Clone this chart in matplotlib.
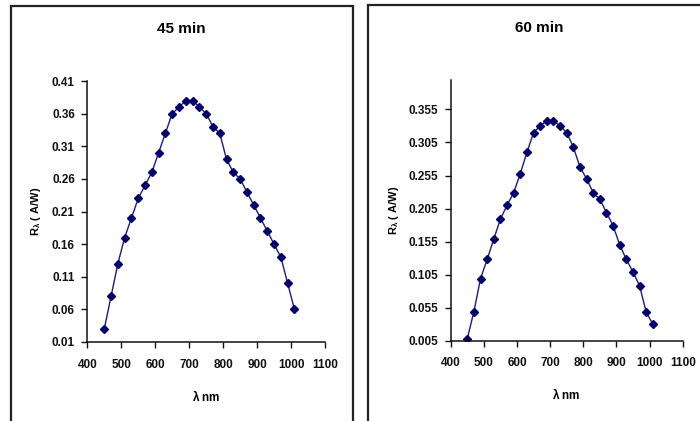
import numpy as np
import matplotlib
matplotlib.use('Agg')
import matplotlib.pyplot as plt
from matplotlib.patches import Rectangle

plt.rcParams['font.family'] = ['Liberation Sans', 'DejaVu Sans']
plt.rcParams['mathtext.fontset'] = 'custom'
plt.rcParams['mathtext.rm'] = 'Liberation Sans:bold'
plt.rcParams['mathtext.it'] = 'Liberation Sans:bold'
plt.rcParams['mathtext.default'] = 'rm'

# wavelength (nm), same for both panels
wavelength = [450, 470, 490, 510, 530, 550, 570, 590, 610, 630, 650, 670, 690, 710, 730,
              750, 770, 790, 810, 830, 850, 870, 890, 910, 930, 950, 970, 990, 1010]

# responsivity after 45 min
resp_45 = [0.03, 0.08, 0.13, 0.17, 0.20, 0.23, 0.25, 0.27, 0.30, 0.33, 0.36, 0.37, 0.38, 0.38, 0.37,
           0.36, 0.34, 0.33, 0.29, 0.27, 0.26, 0.24, 0.22, 0.20, 0.18, 0.16, 0.14, 0.10, 0.06]

# responsivity after 60 min
resp_60 = [0.008, 0.049, 0.099, 0.128, 0.159, 0.189, 0.21, 0.229, 0.258, 0.29, 0.32, 0.33, 0.338, 0.338, 0.33,
           0.32, 0.298, 0.268, 0.25, 0.229, 0.219, 0.199, 0.179, 0.15, 0.128, 0.109, 0.088, 0.048, 0.03]

x_ticks = [400, 500, 600, 700, 800, 900, 1000, 1100]
y_ticks_45 = [0.01, 0.06, 0.11, 0.16, 0.21, 0.26, 0.31, 0.36, 0.41]
y_ticks_60 = [0.005, 0.055, 0.105, 0.155, 0.205, 0.255, 0.305, 0.355]

W, H = 700, 421
fig = plt.figure(figsize=(7, 4.21), dpi=100)

# panel frames (pixel coords -> figure fraction)
def frame(x0, y0, x1, y1):
    r = Rectangle((x0 / W, 1 - y1 / H), (x1 - x0) / W, (y1 - y0) / H,
                  transform=fig.transFigure, fill=False, edgecolor='#222222', lw=1.6, clip_on=False)
    fig.patches.append(r)

frame(11, 6, 353, 440)
frame(368, 5, 720, 440)

def panel(rect, y, yticks, fmt, ylim, title, title_xy, ylab_x):
    ax = fig.add_axes(rect)
    ax.plot(wavelength, y, color='#1a1a8c', lw=1, marker='D', ms=4,
            markerfacecolor='#000070', markeredgecolor='#000070')
    ax.set_xlim(400, 1100)
    ax.set_ylim(*ylim)
    ax.set_xticks(x_ticks)
    ax.set_yticks(yticks)
    ax.set_yticklabels([fmt.format(v) for v in yticks])
    for s in ['top', 'right']:
        ax.spines[s].set_visible(False)
    for s in ['left', 'bottom']:
        ax.spines[s].set_color('#111111')
        ax.spines[s].set_linewidth(1.1)
    ax.tick_params(direction='out', length=4, width=1.0, color='#111111',
                   labelsize=8.5, labelcolor='#111111')
    ax.tick_params(axis='x', pad=8)
    ax.tick_params(axis='y', pad=5)
    for lab in ax.get_xticklabels() + ax.get_yticklabels():
        lab.set_fontweight('bold')
    ax.set_xlabel(r'$\lambda$ nm', fontsize=8.5, fontweight='bold', labelpad=13)
    ax.set_ylabel(r'R$_\lambda$ ( A/W)', fontsize=8, fontweight='bold')
    ax.yaxis.set_label_coords(ylab_x, 0.5)
    fig.text(title_xy[0] / W, 1 - title_xy[1] / H, title, ha='center', va='center',
             fontsize=11, fontweight='bold')
    return ax

panel([87.3 / W, 79 / H, 237.7 / W, 261 / H], resp_45, y_ticks_45, '{:.2f}', (0.01, 0.41),
      '45 min', (181, 29), -0.185)
panel([450.7 / W, 80.3 / H, 232 / W, 261 / H], resp_60, y_ticks_60, '{:.3f}', (0.005, 0.40),
      '60 min', (539, 28), -0.215)

fig.savefig('out.png', dpi=100)
